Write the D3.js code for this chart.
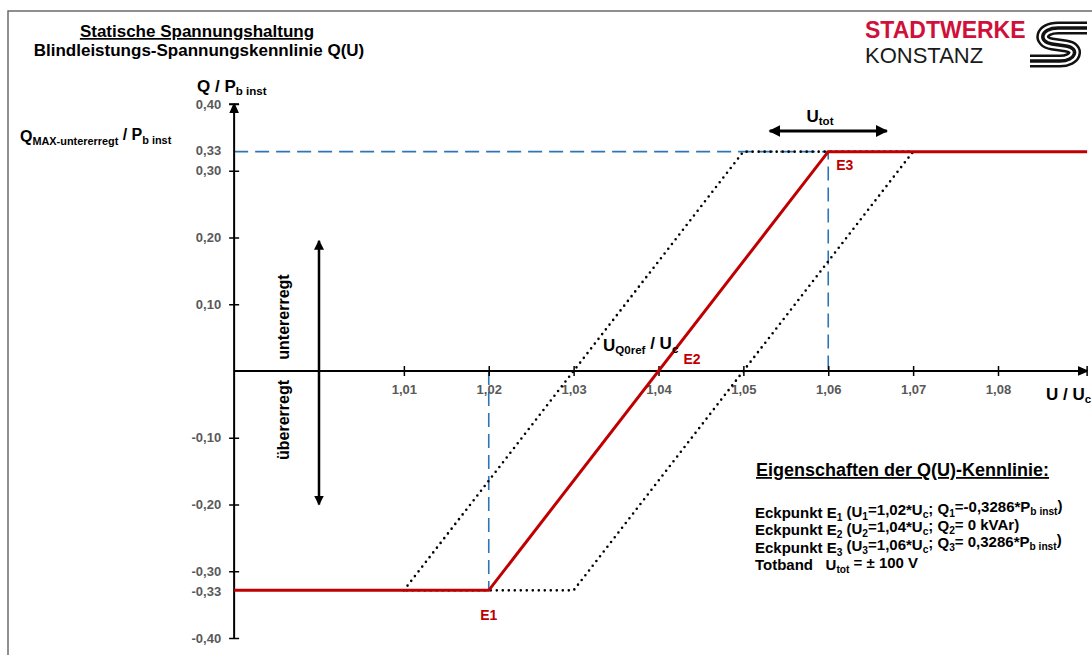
<!DOCTYPE html>
<html>
<head>
<meta charset="utf-8">
<script src="https://cdn.jsdelivr.net/npm/d3@7/dist/d3.min.js"></script>
<style>
  body { margin: 0; background: #fff; }
  svg { display: block; font-family: "Liberation Sans", Arial, sans-serif; }
  .tick text { fill: #595959; font-weight: bold; font-size: 13px; }
</style>
</head>
<body>
<div id="chart"></div>
<script>
// Werte aus dem Bild
var qMax = 0.3286;
var xTicks = [1.01, 1.02, 1.03, 1.04, 1.05, 1.06, 1.07, 1.08];
var yTicks = [0.40, 0.30, 0.20, 0.10, -0.10, -0.20, -0.30, -0.40];
var yLabels = [0.40, 0.33, 0.30, 0.20, 0.10, -0.10, -0.20, -0.30, -0.33, -0.40];

// Kennlinie: U / Uc, Q / Pb inst
var kennlinieU = [0.99, 1.02, 1.06, 1.0905];
var kennlinieQ = [-qMax, -qMax, qMax, qMax];

// Totband (gepunktetes Parallelogramm)
var totbandU = [1.01, 1.05, 1.07, 1.03, 1.01];
var totbandQ = [-qMax, qMax, qMax, -qMax, -qMax];

// Eckpunkte
var eckU = [1.02, 1.04, 1.06];
var eckQ = [-qMax, 0, qMax];
var eckNamen = ["E1", "E2", "E3"];

var width = 1092, height = 655;

var svg = d3.select("#chart").append("svg")
    .attr("width", width)
    .attr("height", height);

var x = d3.scaleLinear().domain([1.00, 1.08]).range([319, 998]);
var y = d3.scaleLinear().domain([-0.4, 0.4]).range([638, 104]);

var locale = d3.formatLocale({decimal: ",", thousands: ".", grouping: [3], currency: ["", "€"], minus: "-"});
var fmt = locale.format(".2f");

// Rahmen
svg.append("path")
    .attr("d", "M8," + height + "V11H" + width)
    .attr("fill", "none")
    .attr("stroke", "#6b6b6b")
    .attr("stroke-width", 1.5);

var defs = svg.append("defs");
defs.append("marker")
    .attr("id", "arr")
    .attr("viewBox", "0 0 10 10")
    .attr("refX", 9).attr("refY", 5)
    .attr("markerWidth", 4).attr("markerHeight", 4)
    .attr("orient", "auto-start-reverse")
    .append("path").attr("d", "M0,0L10,5L0,10z").attr("fill", "#000");
defs.append("marker")
    .attr("id", "arrBar")
    .attr("viewBox", "0 0 10 10")
    .attr("refX", 9).attr("refY", 5)
    .attr("markerWidth", 5).attr("markerHeight", 5)
    .attr("orient", "auto")
    .append("path").attr("d", "M0,1L9,5L0,9zM9,0V10").attr("fill", "#000").attr("stroke", "#000").attr("stroke-width", 1.5);

// Hilfslinien (blau gestrichelt)
var blue = "#2e75b6";
svg.append("path")
    .attr("d", "M" + x(0.99) + "," + y(qMax) + "H" + x(1.06) + "V" + y(0))
    .attr("fill", "none").attr("stroke", blue).attr("stroke-width", 1.6)
    .attr("stroke-dasharray", "14,7");
svg.append("line")
    .attr("x1", x(1.02)).attr("x2", x(1.02))
    .attr("y1", y(0)).attr("y2", y(-qMax))
    .attr("stroke", blue).attr("stroke-width", 1.6)
    .attr("stroke-dasharray", "14,7");

// Achsen
svg.append("line")
    .attr("x1", x(0.99)).attr("x2", x(1.0905))
    .attr("y1", y(0)).attr("y2", y(0))
    .attr("stroke", "#000").attr("stroke-width", 2)
    .attr("marker-end", "url(#arrBar)");
svg.append("line")
    .attr("x1", x(0.99)).attr("x2", x(0.99))
    .attr("y1", y(-0.4)).attr("y2", y(0.4))
    .attr("stroke", "#000").attr("stroke-width", 2)
    .attr("marker-end", "url(#arrBar)");

var xAxis = d3.axisBottom(x)
    .tickValues(xTicks)
    .tickFormat(fmt)
    .tickSizeInner(5)
    .tickSizeOuter(0);
var gx = svg.append("g")
    .attr("transform", "translate(0," + y(0) + ")")
    .call(xAxis);
gx.select(".domain").remove();
gx.selectAll(".tick line").attr("y1", -5).attr("y2", 5).attr("stroke", "#000").attr("stroke-width", 1.5);
gx.selectAll(".tick text").attr("y", 14).attr("dy", "0.71em").attr("font-family", null);

var yAxis = d3.axisLeft(y)
    .tickValues(yLabels)
    .tickFormat(fmt)
    .tickSizeInner(5)
    .tickSizeOuter(0);
var gy = svg.append("g")
    .attr("transform", "translate(" + x(0.99) + ",0)")
    .call(yAxis);
gy.select(".domain").remove();
gy.selectAll(".tick line")
    .attr("x1", -5).attr("x2", 5).attr("stroke", "#000").attr("stroke-width", 1.5)
    .attr("display", function(d) { return yTicks.indexOf(d) < 0 ? "none" : null; });
gy.selectAll(".tick text").attr("x", -13).attr("font-family", null);

// Totband
var lineGen = d3.line()
    .x(function(d) { return x(d[0]); })
    .y(function(d) { return y(d[1]); });
svg.append("path")
    .attr("d", lineGen(d3.zip(totbandU, totbandQ)))
    .attr("fill", "none").attr("stroke", "#000").attr("stroke-width", 2.6)
    .attr("stroke-linecap", "round")
    .attr("stroke-dasharray", "0,6");

// Kennlinie
svg.append("path")
    .attr("d", lineGen(d3.zip(kennlinieU, kennlinieQ)))
    .attr("fill", "none").attr("stroke", "#c00000").attr("stroke-width", 3);

// Eckpunkt-Beschriftungen
var eckDx = [0, 25, 8], eckDy = [30, -7, 18];
svg.selectAll(".eck")
    .data(eckNamen)
    .enter().append("text")
    .attr("class", "eck")
    .attr("x", function(d, i) { return x(eckU[i]) + eckDx[i]; })
    .attr("y", function(d, i) { return y(eckQ[i]) + eckDy[i]; })
    .attr("text-anchor", function(d, i) { return i == 0 ? "middle" : "start"; })
    .attr("fill", "#c00000").attr("font-weight", "bold").attr("font-size", 14)
    .text(function(d) { return d; });

// Doppelpfeile
svg.append("line")
    .attr("x1", x(1.00)).attr("x2", x(1.00))
    .attr("y1", y(0.195)).attr("y2", y(-0.2))
    .attr("stroke", "#000").attr("stroke-width", 2.5)
    .attr("marker-start", "url(#arr)").attr("marker-end", "url(#arr)");
svg.append("line")
    .attr("x1", x(1.0531)).attr("x2", x(1.0669))
    .attr("y1", 131).attr("y2", 131)
    .attr("stroke", "#000").attr("stroke-width", 3)
    .attr("marker-start", "url(#arr)").attr("marker-end", "url(#arr)");

// Texte mit Index
function richText(sel, parts) {
    var shifted = false;
    parts.forEach(function(p) {
        var t = sel.append("tspan").text(p[0]);
        if (p[1] == "sub") {
            t.attr("font-size", "68%").attr("dy", shifted ? 0 : "0.3em");
            shifted = true;
        } else if (shifted) {
            t.attr("dy", "-0.3em");
            shifted = false;
        }
    });
    return sel;
}

svg.append("text")
    .attr("x", 820).attr("y", 122).attr("text-anchor", "middle")
    .attr("font-size", 17).attr("font-weight", "bold")
    .call(richText, [["U"], ["tot", "sub"]]);

svg.append("text")
    .attr("x", 197).attr("y", 92)
    .attr("font-size", 17).attr("font-weight", "bold")
    .call(richText, [["Q / P"], ["b inst", "sub"]]);

svg.append("text")
    .attr("x", 20).attr("y", 142)
    .attr("font-size", 16).attr("font-weight", "bold")
    .call(richText, [["Q"], ["MAX-untererregt", "sub"], [" / P"], ["b inst", "sub"]]);

svg.append("text")
    .attr("x", 1046).attr("y", 400)
    .attr("font-size", 17).attr("font-weight", "bold")
    .call(richText, [["U / U"], ["c", "sub"]]);

svg.append("text")
    .attr("x", 603).attr("y", 351)
    .attr("font-size", 17).attr("font-weight", "bold")
    .call(richText, [["U"], ["Q0ref", "sub"], [" / U"], ["c", "sub"]]);

svg.append("text")
    .attr("transform", "translate(289,317) rotate(-90)")
    .attr("text-anchor", "middle").attr("font-size", 16).attr("font-weight", "bold")
    .text("untererregt");
svg.append("text")
    .attr("transform", "translate(289,420) rotate(-90)")
    .attr("text-anchor", "middle").attr("font-size", 16).attr("font-weight", "bold")
    .text("übererregt");

// Titel
svg.append("text")
    .attr("x", 197).attr("y", 37).attr("text-anchor", "middle")
    .attr("font-size", 17).attr("font-weight", "bold")
    .attr("text-decoration", "underline")
    .text("Statische Spannungshaltung");
svg.append("text")
    .attr("x", 199).attr("y", 56).attr("text-anchor", "middle")
    .attr("font-size", 17).attr("font-weight", "bold")
    .text("Blindleistungs-Spannungskennlinie Q(U)");

// Eigenschaften
svg.append("text")
    .attr("x", 756).attr("y", 476)
    .attr("font-size", 18).attr("font-weight", "bold")
    .attr("text-decoration", "underline")
    .text("Eigenschaften der Q(U)-Kennlinie:");

var eigenschaften = [
    [["Eckpunkt E"], ["1", "sub"], [" (U"], ["1", "sub"], ["=1,02*U"], ["c", "sub"], ["; Q"], ["1", "sub"], ["=-0,3286*P"], ["b inst", "sub"], [")"]],
    [["Eckpunkt E"], ["2", "sub"], [" (U"], ["2", "sub"], ["=1,04*U"], ["c", "sub"], ["; Q"], ["2", "sub"], ["= 0 kVAr)"]],
    [["Eckpunkt E"], ["3", "sub"], [" (U"], ["3", "sub"], ["=1,06*U"], ["c", "sub"], ["; Q"], ["3", "sub"], ["= 0,3286*P"], ["b inst", "sub"], [")"]],
    [["Totband\u00a0\u00a0\u00a0U"], ["tot", "sub"], [" = ± 100 V"]]
];
eigenschaften.forEach(function(parts, i) {
    svg.append("text")
        .attr("x", 755).attr("y", 518 + i * 17.3)
        .attr("font-size", 15).attr("font-weight", "bold")
        .call(richText, parts);
});

// Logo
svg.append("text")
    .attr("x", 865).attr("y", 38)
    .attr("font-size", 23).attr("font-weight", "bold").attr("fill", "#d0103a")
    .text("STADTWERKE");
svg.append("text")
    .attr("x", 865).attr("y", 63)
    .attr("font-size", 22).attr("fill", "#1a1a1a")
    .text("KONSTANZ");
var sPath = "M1087,28 L1058,28 C1040,28 1038,42 1052,44 L1066,46 C1080,48 1076,61 1060,61 L1030,61";
svg.append("path").attr("d", sPath).attr("fill", "none").attr("stroke", "#111").attr("stroke-width", 13);
svg.append("path").attr("d", sPath).attr("fill", "none").attr("stroke", "#fff").attr("stroke-width", 8);
svg.append("path").attr("d", sPath).attr("fill", "none").attr("stroke", "#111").attr("stroke-width", 3.5);
</script>
</body>
</html>
